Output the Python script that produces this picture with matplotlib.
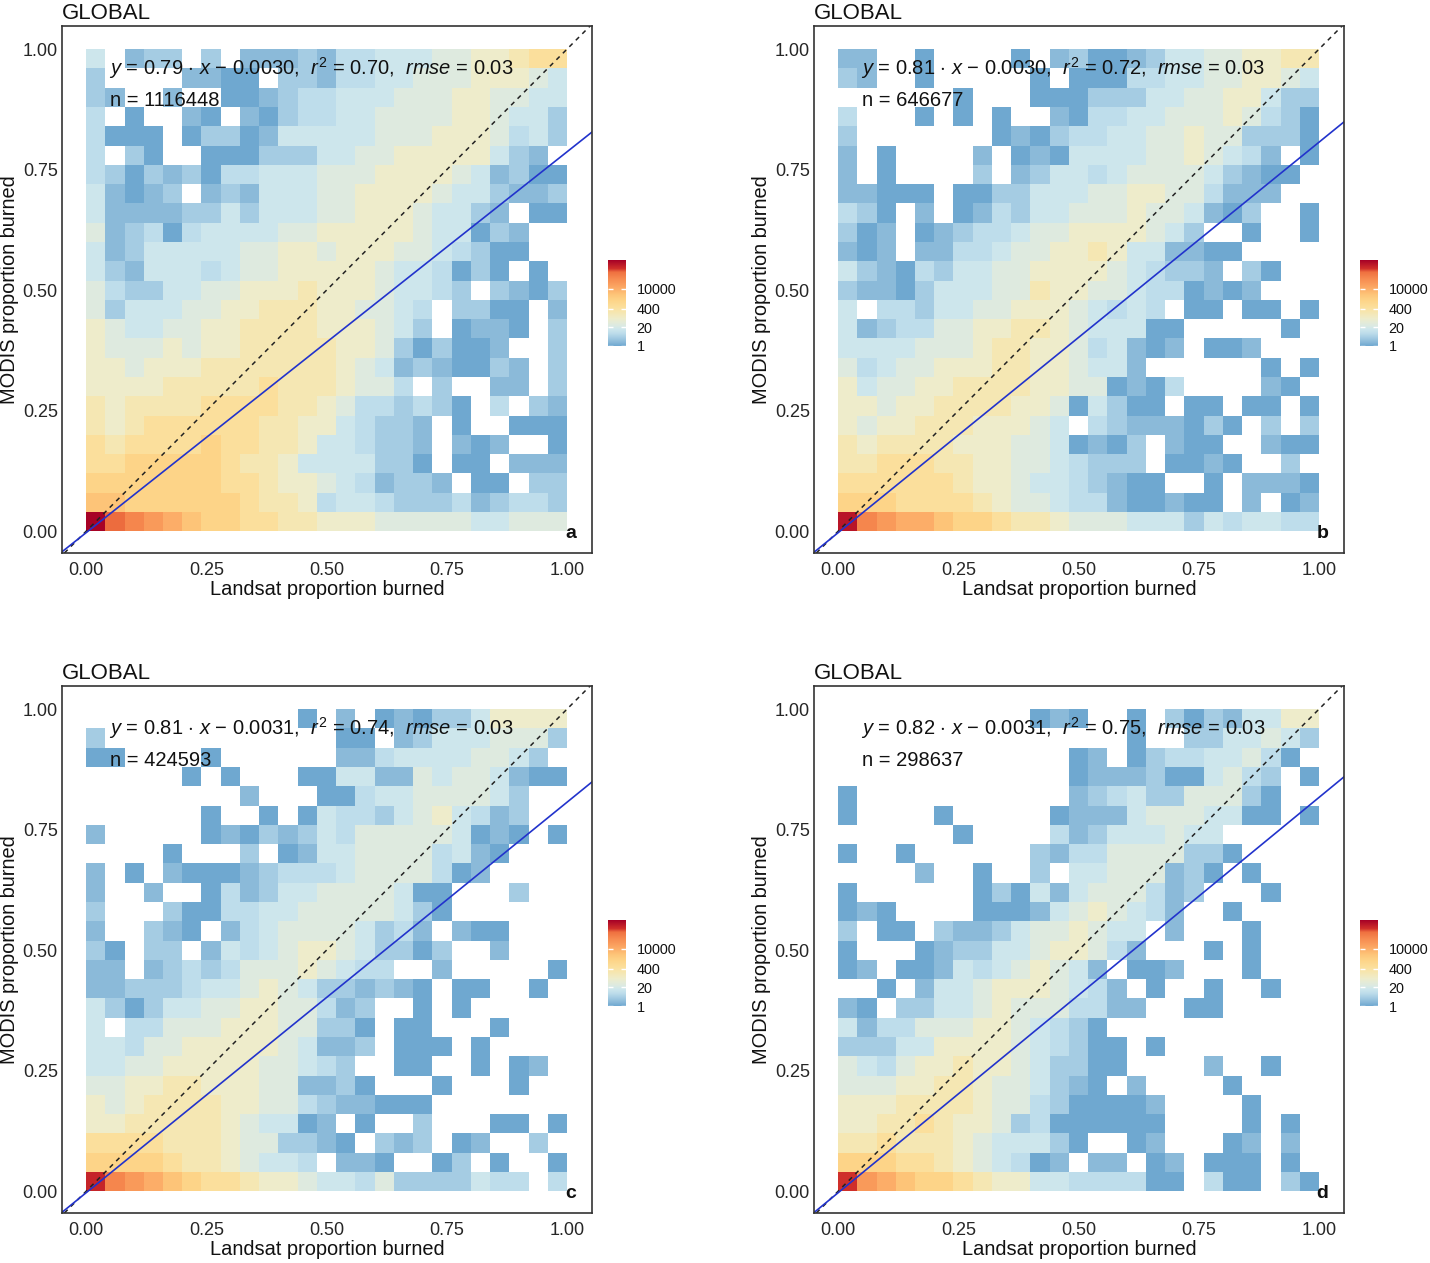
import numpy as np
import matplotlib
matplotlib.use("Agg")
import matplotlib.pyplot as plt
from matplotlib.colors import LinearSegmentedColormap, LogNorm

plt.rcParams['font.family'] = ['Liberation Sans', 'DejaVu Sans']
plt.rcParams['mathtext.fontset'] = 'custom'
plt.rcParams['mathtext.rm'] = 'Liberation Sans'
plt.rcParams['mathtext.it'] = 'Liberation Sans:italic'

# one character per 2d bin, top row first, "." = empty bin
bin_counts = {'1': 1, '2': 2, '3': 4, '4': 8, '5': 15, '6': 30, '7': 80, '8': 200, '9': 500,
              'a': 1500, 'b': 4000, 'c': 10000, 'd': 25000, 'e': 60000, 'f': 150000,
              'j': 250000, 'i': 350000, 'h': 550000, 'g': 900000}

rows_a = [
    "5.233 .3.22 23244 55566 77899",
    "3.... 2211. 33244 55666 77765",
    "32..2 ..112 34455 56667 76655",
    "4.1.. 21.21 34455 66667 76553",
    "4111. 13312 55555 66677 76453",
    "4.31. .1113 33556 67777 7532.",
    "43132 31445 55666 77776 52311",
    "52123 .2325 55667 77765 53223",
    "52222 33535 55667 77655 32.11",
    "62341 45555 66777 77655 132..",
    "52355 55566 77677 76654 311..",
    "53255 54566 77777 65541 31.1.",
    "64335 56677 78777 65543 .3213",
    "63555 66778 88776 654.3 311.2",
    "76556 67788 88777 653.1 221.3",
    "76667 67788 88877 63131 12..3",
    "77677 78888 88876 52321 132.3",
    "77778 88889 88876 64.3. .22.3",
    "87888 89999 88764 43431 .4.32",
    "87899 99998 87754 332.1 ..111",
    "98999 9a998 87554 332.2 12..1",
    "99aaa aa988 75555 331.1 1.222",
    "aaaaa aa998 77654 2332. 11.33",
    "bbaaa aaa98 87455 43334 23443",
    "gfedc baa99 88777 66666 55666",
]

rows_b = [
    "22..1 ....1 .2311 23556 67788",
    "32..1 ..... 1.111 44556 67765",
    "..... .1... 11133 35566 77533",
    "4...1 .1.1. .2144 55666 76431",
    "3.... ...12 13445 56676 63331",
    "2.1.. ..2.1 21555 56676 542.1",
    "2.1.. ..3.2 35545 66665 3211.",
    "22111 .1133 55566 77664 222..",
    "431.2 .1243 55666 76652 13..1",
    "312.1 23445 66777 7653. .1..1",
    "212.2 24456 67787 55221 1....",
    "53214 35566 77776 54332 .31..",
    "32213 55566 87766 54412 12...",
    "5.443 55667 77654 54.11 .11.1",
    "52344 66778 87655 511.. ...1.",
    "55556 66788 77645 212.1 12...",
    "64566 77788 77655 2.... ..1.1",
    "75667 78888 77661 214.. ..21.",
    "77677 88887 76153 11.11 .11.1",
    "76778 88777 65.43 22213 1.3.3",
    "87888 87776 65121 3.211 ..211",
    "88999 88776 65433 3.112 1..3.",
    "99999 98776 55432 11..1 .2221",
    "aaa99 99876 65442 11211 .2.12",
    "hedcc baa98 87666 55535 45544",
]

rows_c = [
    "..... ..... .1.2. 12133 57777",
    "3.... ..... ...11 .2355 56663",
    "11... .1... ...22 45555 6653.",
    "..... 1.1.. .1155 22656 65211",
    "..... ...2. ..114 55666 653..",
    "..... .1..1 .1544 35675 423..",
    "2.... .1213 23546 66665 121.1",
    "....1 ...3. 12556 66645 21...",
    "2.1.2 11123 44456 66641 2....",
    "2..2. .1423 55666 6511. ..3..",
    "3...3 11445 56666 6531. .....",
    "2..32 1.245 66665 342.2 11...",
    "31.33 .2545 67765 3313. .2...",
    "22.23 43466 67654 4..2. ....1",
    "22333 45567 65332 321.1 1..1.",
    "53135 56677 66423 ..1.1 .....",
    "5.446 66777 66331 .11.. .1...",
    "55466 77777 65223 .111. 1....",
    "55667 77776 6543. .11.. 1.12.",
    "66778 87776 62231 ...1. ..1..",
    "76788 88776 64322 111.. .....",
    "77888 88765 512.1 ..3.. .11.1",
    "99998 88766 3321. 323.1 2..3.",
    "aaaa9 88765 54.22 1..13 .1..1",
    "iedcb a9987 76554 63333 544.4",
]

rows_d = [
    "..... ..... 121.. 1.313 25577",
    "..... ..... ..... 1..33 55653",
    "..... ..... ..12. 13445 5641.",
    "..... ..... ..122 23115 643.1",
    "1.... ..... ..234 53366 631..",
    "1.... 1.... .1222 56665 511.1",
    "..... .1... .4235 55655 .....",
    "1..1. ..... 32446 66633 1....",
    "....2 ..1.. 3.556 66231 .1...",
    "1.... ..131 52566 6423. ..1..",
    "121.. ..111 25676 542.. 1....",
    "3.11. 32235 66765 5.2.. .1...",
    "1...1 23355 67764 2...1 .1...",
    "12.11 25456 7652. 112.. .1...",
    "..1.2 55677 76542 .1..1 ..1..",
    "21.33 55676 66442 2..11 .....",
    "52446 66776 5431. ..... .....",
    "33355 77776 54311 .1... .....",
    "65467 78776 53311 ....2 ..1..",
    "66677 88766 5321. 2.... 1....",
    "77788 88766 43111 12... .1...",
    "77889 87763 41111 11... .1.1.",
    "88988 87655 531.. 12... 12.2.",
    "aaa99 87654 12.22 .12.1 11.1.",
    "jdcba a9877 55444 411.4 11.31",
]

panel_rows = [rows_a, rows_b, rows_c, rows_d]
panel_labels = ['a', 'b', 'c', 'd']
slopes = [0.79, 0.81, 0.81, 0.82]
intercepts = [-0.0030, -0.0030, -0.0031, -0.0031]
r2_values = [0.70, 0.72, 0.74, 0.75]
rmse_values = [0.03, 0.03, 0.03, 0.03]
n_values = [1116448, 646677, 424593, 298637]
axis_ticks = [0, 0.25, 0.5, 0.75, 1]
legend_ticks = [1, 20, 400, 10000]

cmap = LinearSegmentedColormap.from_list('burn', [
    (0.0, '#6FA8D0'), (0.05, '#8DBBDA'), (0.10, '#A6CDE3'), (0.15, '#BEDDEB'),
    (0.196, '#CDE6EC'), (0.246, '#DEEADF'), (0.317, '#EEECCB'), (0.383, '#F5E7B3'),
    (0.45, '#FBDF9C'), (0.53, '#FDD488'), (0.60, '#FDC478'), (0.667, '#FCAD68'),
    (0.733, '#F99A5A'), (0.797, '#F5864D'), (0.86, '#EE7040'), (0.90, '#D0302A'),
    (1.0, '#A50026')])
norm = LogNorm(vmin=1, vmax=1e6)

W, H = 1430, 1263
fig = plt.figure(figsize=(W / 100, H / 100), dpi=100)

lefts = [62, 814, 62, 814]
tops = [26, 26, 686, 686]
edges = np.linspace(0, 1, 26)


def to_grid(rows):
    grid = []
    for row in rows:
        cells = row.replace(" ", "")
        grid.append([bin_counts.get(c, np.nan) for c in cells])
    return np.array(grid, dtype=float)[::-1]


for i in range(4):
    ax = fig.add_axes([lefts[i] / W, 1 - (tops[i] + 527) / H, 530 / W, 527 / H])
    grid = np.ma.masked_invalid(to_grid(panel_rows[i]))
    mesh = ax.pcolormesh(edges, edges, grid, cmap=cmap, norm=norm, linewidth=0)
    ax.axline((0, 0), slope=1, color='#222222', lw=1.1, ls=(0, (3, 3)))
    ax.axline((0, intercepts[i]), slope=slopes[i], color='#2233CC', lw=1.2)
    ax.set_xlim(-0.05, 1.052)
    ax.set_ylim(-0.045, 1.048)
    ax.set_xticks(axis_ticks)
    ax.set_yticks(axis_ticks)
    ax.set_xticklabels(['%.2f' % t for t in axis_ticks])
    ax.set_yticklabels(['%.2f' % t for t in axis_ticks])
    ax.tick_params(direction='inout', length=3, width=1.2, color='white', top=True, right=True,
                   labelsize=13, labelcolor='#262626', pad=5)
    ax.tick_params(axis='y', pad=1.5)
    for s in ax.spines.values():
        s.set_color('#333333')
        s.set_linewidth(1.2)
    ax.set_xlabel('Landsat proportion burned', fontsize=14.4, color='#111111', labelpad=1)
    ax.set_ylabel('MODIS proportion burned', fontsize=14.4, color='#111111')
    ax.yaxis.set_label_coords(-0.081, 0.5)
    ax.set_title('GLOBAL', loc='left', fontsize=16, color='#111111', pad=5)
    sign = '\u2212' if intercepts[i] < 0 else '+'
    eq = (r'$\it{y}$ = %.2f $\cdot$ $\it{x}$ %s %.4f,  $\it{r}^2$ = %.2f,  $\it{rmse}$ = %.2f'
          % (slopes[i], sign, abs(intercepts[i]), r2_values[i], rmse_values[i]))
    ax.text(0.047, 0.960, eq, fontsize=14.5, va='center', ha='left', color='#111111')
    ax.text(0.05, 0.893, 'n = %d' % n_values[i], fontsize=14.5, va='center', ha='left', color='#111111')
    ax.text(1.02, -0.004, panel_labels[i], fontsize=14, fontweight='bold', va='center', ha='right',
            color='#111111')

    cax = fig.add_axes([(lefts[i] + 546) / W, 1 - (tops[i] + 320) / H, 18 / W, 86 / H])
    cb = fig.colorbar(mesh, cax=cax, ticks=legend_ticks)
    cb.ax.minorticks_off()
    cb.ax.set_yticklabels([str(t) for t in legend_ticks])
    cb.ax.tick_params(direction='in', length=3.5, width=1, color='white', left=True, right=True,
                      labelsize=10.4, labelcolor='#111111', pad=7.5)
    cb.outline.set_visible(False)

fig.savefig('out.png', dpi=100)
